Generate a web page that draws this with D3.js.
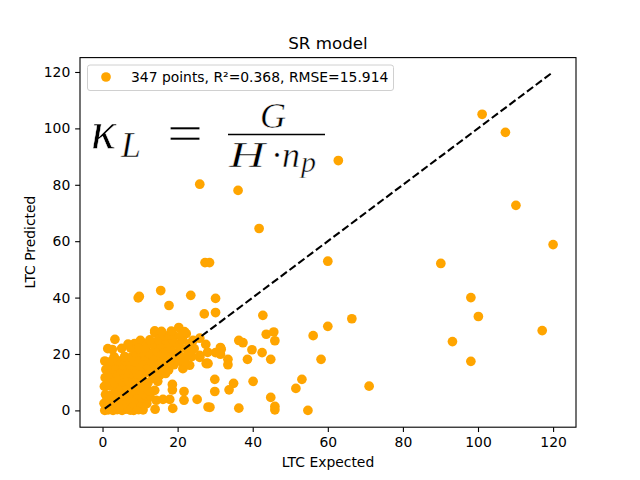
<!DOCTYPE html>
<html>
<head>
<meta charset="utf-8">
<script src="https://cdn.jsdelivr.net/npm/d3@7"></script>
<style>
  body { margin: 0; background: #fff; }
  text { font-family: "DejaVu Sans", sans-serif; }
  .math { font-family: "Liberation Serif", serif; font-style: italic; }
</style>
</head>
<body>
<div id="plot"></div>
<script>
// LTC values: expected (x) and predicted (y), pairwise
const ltcExpected = [
  101.1, 107.3, 110.1, 120.0, 90.1, 98.1, 100.1, 117.1, 93.2, 98.1,
  62.8, 36.1, 25.9, 41.7, 60.0, 27.3, 28.5,
  42.7, 66.4, 60.0, 71.0, 56.1, 58.2, 53.1, 51.5, 54.7,
  45.9, 45.9, 44.8, 44.8, 42.5, 39.8, 43.6, 45.6, 45.9,
  37.4, 36.3, 38.6, 40.1, 36.3, 34.9, 33.7, 29.9, 29.9, 28.6,
  30.1, 30.1, 27.1, 23.5, 15.5, 9.5, 9.8, 17.7,
  31.4, 30.1, 31.6, 31.4, 33.4, 33.4, 27.6, 25.9, 28.1, 28.0,
  25.9, 27.5, 20.3, 22.3, 19.2, 13.9, 15.2, 3.3, 10.1, 8.5, 1.4,
  25.2, 28.1, 21.7, 21.7, 18.6, 18.6, 13.9, 14.3, 16.1, 17.9,
  23.2, 21.4, 15.2, 27.8, 25.9, 13.9, 18.7, 14.0,
  // dense cluster
  0.6, 1.5, 2.8, 3.9, 5.2, 6.1, 7.4, 8.3, 9.6, 10.8,
  0.9, 3.3, 4.6, 7.0, 9.1,
  0.4, 2.1, 4.0, 5.7, 8.0, 10.2, 11.8,
  1.2, 3.0, 5.0, 6.6, 8.7, 10.5, 12.0,
  0.8, 2.4, 4.3, 6.9, 9.4, 11.6, 12.6,
  3.5, 5.6, 7.8, 10.0, 12.3,
  0.5, 1.9, 4.8, 6.3, 8.9, 11.0,
  1.3, 3.2, 5.3, 7.1, 9.8, 12.1, 14.7,
  0.7, 2.6, 4.4, 6.0, 8.2, 10.6, 13.4,
  1.8, 3.7, 5.8, 7.6, 9.2, 11.4, 14.2, 16.8,
  0.9, 2.9, 4.9, 6.7, 8.6, 10.4, 12.7, 15.3, 17.6,
  1.6, 3.4, 5.5, 7.3, 9.9, 11.8, 13.9, 16.4, 19.0,
  0.6, 2.3, 4.1, 6.2, 8.4, 10.7, 12.9, 15.0, 17.9, 20.5, 22.0,
  3.1, 5.9, 7.7, 9.5, 11.2, 13.6, 16.2, 18.8, 21.6, 23.8,
  8.8, 10.3, 12.4, 14.8, 17.3, 19.7, 22.9,
  2.6, 5.1, 7.5, 9.7, 11.5, 14.1, 16.6, 18.2, 21.0, 24.4,
  6.8, 11.9, 13.3, 15.6, 17.5, 19.9, 23.0,
  12.6, 14.9, 16.9, 18.6, 21.3, 24.1,
  16.3, 17.8, 20.9,
  15.7, 18.3, 21.8
];
const ltcPredicted = [
  105.0, 98.6, 72.7, 58.8, 52.1, 40.0, 33.3, 28.3, 24.4, 17.4,
  88.6, 78.0, 80.2, 64.5, 52.9, 52.4, 52.4,
  33.7, 32.5, 29.8, 8.6, 26.5, 18.1, 11.0, 7.8, 0.0,
  1.4, 0.2, 4.6, 18.1, 20.5, 21.5, 27.0, 27.8, 24.7,
  24.0, 24.8, 18.1, 10.3, 0.8, 9.6, 7.3, 11.0, 6.7, 1.1,
  39.7, 34.7, 34.2, 40.8, 42.5, 39.9, 40.4, 37.2,
  22.3, 20.5, 21.7, 19.9, 18.1, 16.2, 16.6, 18.8, 16.6, 20.6,
  25.6, 23.4, 29.4, 27.2, 26.4, 27.6, 26.0, 25.2, 24.8, 23.7, 21.9,
  3.9, 1.2, 6.7, 3.6, 9.2, 7.3, 7.1, 3.6, 3.9, 3.9,
  16.0, 14.8, 12.4, 16.8, 19.5, 28.2, 0.7, 0.4,
  // dense cluster
  0.0, 0.2, 0.0, 0.3, 0.0, 0.4, 0.1, 0.0, 0.3, 0.2,
  1.2, 1.0, 1.4, 1.1, 1.3,
  2.5, 2.7, 2.4, 2.6, 2.5, 2.8, 2.4,
  4.0, 4.2, 3.9, 4.1, 4.0, 4.3, 4.1,
  5.6, 5.4, 5.7, 5.5, 5.6, 5.3, 5.5,
  7.0, 7.2, 6.9, 7.1, 7.0,
  8.5, 8.7, 8.4, 8.6, 8.5, 8.8,
  10.1, 9.9, 10.2, 10.0, 10.1, 9.8, 10.3,
  11.6, 11.4, 11.5, 11.7, 11.5, 11.6, 11.4,
  13.0, 13.2, 12.9, 13.1, 13.0, 13.2, 12.9, 13.1,
  14.5, 14.6, 14.4, 14.5, 14.7, 14.4, 14.6, 14.5, 14.3,
  16.1, 15.9, 16.0, 16.2, 15.9, 16.1, 16.0, 15.8, 16.2,
  17.5, 17.4, 17.6, 17.5, 17.3, 17.6, 17.5, 17.4, 17.6, 17.5, 17.3,
  19.0, 19.1, 18.9, 19.0, 19.2, 18.9, 19.1, 19.0, 18.8, 19.1,
  20.5, 20.6, 20.4, 20.5, 20.7, 20.4, 20.6,
  21.6, 22.0, 22.1, 21.9, 22.2, 22.0, 21.8, 22.1, 22.0, 21.9,
  23.5, 23.6, 23.4, 23.5, 23.7, 23.4, 23.6,
  25.0, 25.1, 24.9, 25.2, 25.0, 24.8,
  26.5, 26.7, 26.4,
  28.0, 28.1, 27.9
];
const xTicks = [0, 20, 40, 60, 80, 100, 120];
const yTicks = [0, 20, 40, 60, 80, 100, 120];
const identityLine = [0.6, 120];
const legendLabel = "347 points, R\u00b2=0.368, RMSE=15.914";

const width = 640, height = 480;
const margin = { left: 80, right: 64, top: 57.6, bottom: 52.8 };
const svg = d3.select("#plot").append("svg")
    .attr("width", width)
    .attr("height", height);

svg.append("rect").attr("width", width).attr("height", height).attr("fill", "#fff");

const x = d3.scaleLinear().domain([-6.0, 126.1]).range([margin.left, width - margin.right]);
const y = d3.scaleLinear().domain([-5.96, 125.1]).range([height - margin.bottom, margin.top]);

const points = ltcExpected.map((v, i) => ({ x: v, y: ltcPredicted[i] }));

// scatter (6pt marker + 1pt face-coloured edge)
svg.append("g")
  .selectAll("circle")
  .data(points)
  .enter()
  .append("circle")
  .attr("cx", d => x(d.x))
  .attr("cy", d => y(d.y))
  .attr("r", 4.85)
  .style("fill", "#FFA500");

// y = x reference line
svg.append("line")
  .attr("x1", x(identityLine[0])).attr("y1", y(identityLine[0]))
  .attr("x2", x(identityLine[1])).attr("y2", y(identityLine[1]))
  .attr("stroke", "#000")
  .attr("stroke-width", 2.08)
  .attr("stroke-dasharray", "7.7,3.3");

// axes
const xAxis = svg.append("g")
  .attr("transform", `translate(0,${height - margin.bottom})`)
  .call(d3.axisBottom(x).tickValues(xTicks).tickSize(4.86).tickPadding(4.9).tickFormat(d3.format("d")));
const yAxis = svg.append("g")
  .attr("transform", `translate(${margin.left},0)`)
  .call(d3.axisLeft(y).tickValues(yTicks).tickSize(4.86).tickPadding(4.9).tickFormat(d3.format("d")));
[xAxis, yAxis].forEach(a => {
  a.select(".domain").remove();
  a.selectAll(".tick line").attr("stroke", "#000").attr("stroke-width", 1.1);
  a.selectAll(".tick text").attr("fill", "#000").style("font-size", "13.9px")
    .style("font-family", "'DejaVu Sans', sans-serif");
});

// frame
svg.append("rect")
  .attr("x", margin.left).attr("y", margin.top)
  .attr("width", width - margin.left - margin.right)
  .attr("height", height - margin.top - margin.bottom)
  .attr("fill", "none").attr("stroke", "#000").attr("stroke-width", 1.1);

// labels
svg.append("text").attr("x", 328).attr("y", 49).attr("text-anchor", "middle")
  .style("font-size", "16.7px").text("SR model");
svg.append("text").attr("x", 328).attr("y", 467).attr("text-anchor", "middle")
  .style("font-size", "13.9px").text("LTC Expected");
svg.append("text").attr("transform", "translate(35,242) rotate(-90)").attr("text-anchor", "middle")
  .style("font-size", "13.9px").text("LTC Predicted");

// legend
const lg = svg.append("g");
lg.append("rect").attr("x", 87.5).attr("y", 65).attr("width", 306).attr("height", 25.5)
  .attr("rx", 2.5).attr("fill", "#fff").attr("fill-opacity", 0.8)
  .attr("stroke", "#d0d0d0").attr("stroke-width", 1);
lg.append("circle").attr("cx", 106).attr("cy", 77).attr("r", 4.85).style("fill", "#FFA500");
lg.append("text").attr("x", 131).attr("y", 82).style("font-size", "13.9px").text(legendLabel);

// formula kappa_L = G / (H . n_p)
const m = svg.append("g").attr("fill", "#000").attr("stroke", "#fff").attr("stroke-width", 0.5);
const lhs = m.append("text").attr("class", "math").attr("x", 91).attr("y", 148);
lhs.append("tspan").style("font-size", "52px").text("\u03ba");
lhs.append("tspan").attr("x", 121).attr("y", 157).style("font-size", "36px").text("L");
m.append("text").attr("x", 167).attr("y", 151).style("font-family", "'Liberation Serif', serif")
  .style("font-size", "52px").attr("textLength", 36).attr("lengthAdjust", "spacingAndGlyphs").text("=");
m.append("line").attr("x1", 228).attr("x2", 325).attr("y1", 134.5).attr("y2", 134.5)
  .attr("stroke", "#000").attr("stroke-width", 1.6);
m.append("text").attr("class", "math").attr("x", 260).attr("y", 128).style("font-size", "36px").text("G");
m.append("text").attr("class", "math").attr("x", 229).attr("y", 167).style("font-size", "36px")
  .attr("textLength", 36).attr("lengthAdjust", "spacingAndGlyphs").text("H");
const den = m.append("text").attr("class", "math").attr("y", 167).style("font-size", "36px");
den.append("tspan").attr("x", 271).style("font-style", "normal").text("\u00b7");
den.append("tspan").attr("x", 282).text("n");
den.append("tspan").attr("x", 301).attr("y", 172).style("font-size", "30px").text("p");
</script>
</body>
</html>
